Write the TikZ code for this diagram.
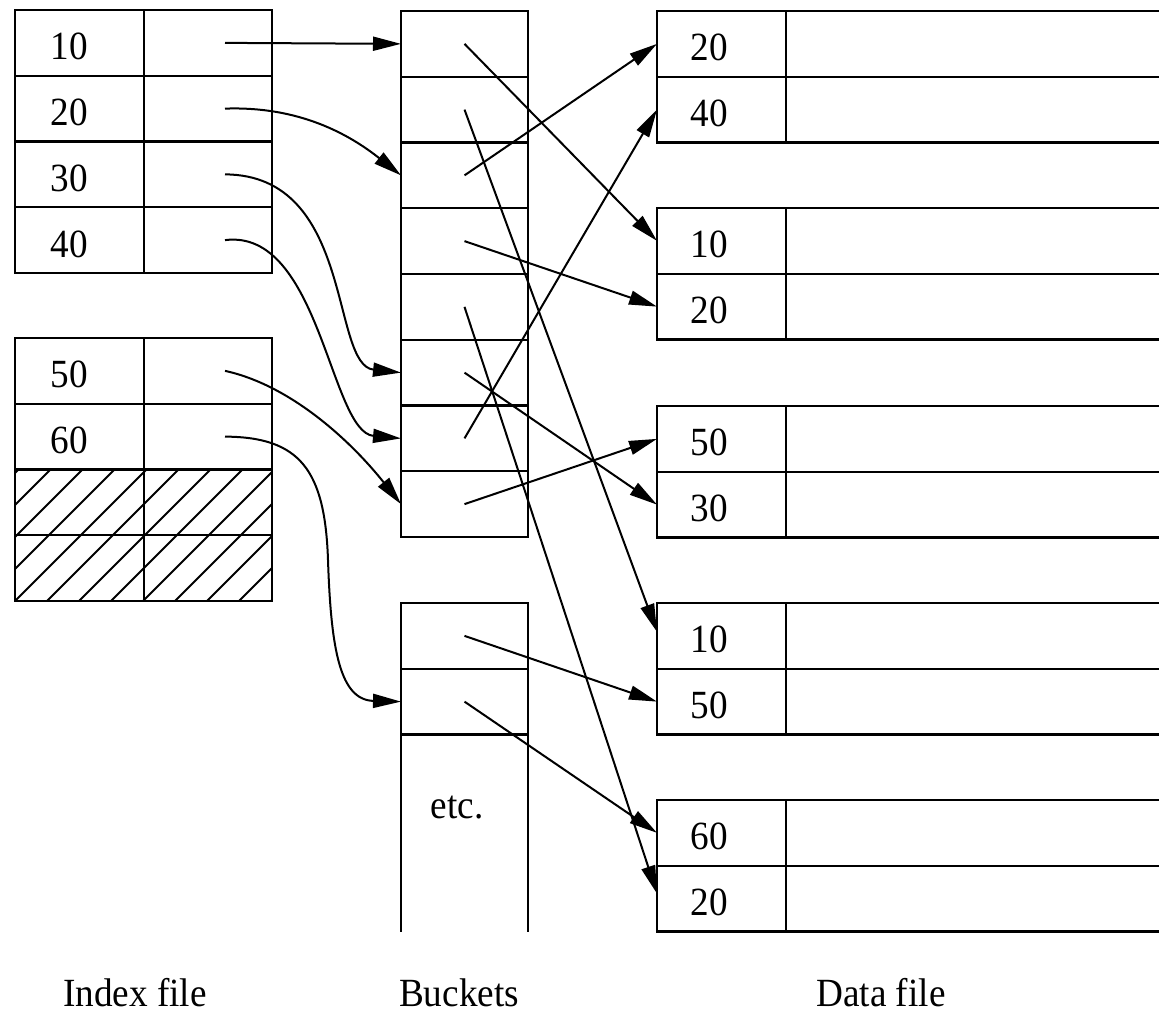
\documentclass[tikz,border=0pt]{standalone}
\usepackage{fontspec}
\setmainfont{Liberation Serif}[FakeStretch=0.93]
\usetikzlibrary{arrows.meta}
\begin{document}
\begin{tikzpicture}[x=1pt,y=-1pt,
  cell/.style={draw, line width=2.2pt, inner sep=0pt, outer sep=0pt, minimum height=65.75pt, anchor=north west},
  keycell/.style={cell, minimum width=129pt},
  ptrcell/.style={cell, minimum width=128pt},
  bcell/.style={cell, minimum width=127pt},
  num/.style={anchor=base, inner sep=0pt, font=\fontsize{40}{48}\selectfont},
  lbl/.style={anchor=base, inner sep=0pt, font=\fontsize{40}{48}\selectfont},
  arr/.style={line width=2pt, -{Triangle[length=28pt,width=14pt]}},
  edgeline/.style={line width=2.2pt},
  hatchline/.style={line width=2pt}]
\useasboundingbox (0,0) rectangle (1159,1019);

% ---------- Index file ----------
\foreach \i/\k in {1/10,2/20,3/30,4/40} {
  \node[keycell] (ik\i) at (15,{10+65.75*(\i-1)}) {};
  \node[ptrcell] (ip\i) at (144,{10+65.75*(\i-1)}) {};
  \node[num] (ikt\i) at ([xshift=-10pt,yshift=16pt]ik\i.south) {\k};
}
% hatched area
\begin{scope}
  \clip (15,469.5) rectangle (272,601);
  \foreach \s in {-9,...,9} \draw[hatchline] ({15+32*\s},601) -- ++(260,-260);
\end{scope}
\foreach \i/\k in {5/50,6/60} {
  \node[keycell] (ik\i) at (15,{338+65.75*(\i-5)}) {};
  \node[ptrcell] (ip\i) at (144,{338+65.75*(\i-5)}) {};
  \node[num] (ikt\i) at ([xshift=-10pt,yshift=16pt]ik\i.south) {\k};
}
\foreach \i in {7,8} {
  \node[keycell] (ik\i) at (15,{338+65.75*(\i-5)}) {};
  \node[ptrcell] (ip\i) at (144,{338+65.75*(\i-5)}) {};
}

% ---------- Buckets ----------
\foreach \i in {1,...,8} \node[bcell] (b\i) at (401,{11+65.75*(\i-1)}) {};
\node[bcell] (c1) at (401,603) {};
\node[bcell] (c2) at (401,668.75) {};
\coordinate (cbl) at (401,932);
\coordinate (cbr) at (528,932);
\draw[edgeline] (c2.south west) -- (cbl);
\draw[edgeline] (c2.south east) -- (cbr);
\node[lbl] (etc) at (457,818) {etc.};

% ---------- Data file ----------
\foreach \j/\T/\ka/\kb in {1/11/20/40, 2/208/10/20, 3/406/50/30, 4/603/10/50, 5/800/60/20} {
  \node[keycell] (d\j-a) at (657,\T) {};
  \node[keycell] (d\j-b) at (657,{\T+65.75}) {};
  \draw[edgeline] (d\j-a.north east) -- ++(420,0);
  \draw[edgeline] (d\j-a.south east) -- ++(420,0);
  \draw[edgeline] (d\j-b.south east) -- ++(420,0);
  \node[num] (dt\j-a) at ([xshift=-12pt,yshift=16pt]d\j-a.south) {\ka};
  \node[num] (dt\j-b) at ([xshift=-12pt,yshift=16pt]d\j-b.south) {\kb};
}

% ---------- Index -> Buckets ----------
\draw[arr] ([xshift=17pt]ip1.center) -- (b1.west);
\draw[arr] ([xshift=17pt]ip2.center) .. controls (300,106) and (350,135) .. (b3.west);
\draw[arr] ([xshift=17pt]ip3.center) .. controls (355,175) and (330,365) .. (b6.west);
\draw[arr] ([xshift=17pt]ip4.center) .. controls (320,228) and (330,432) .. (b7.west);
\draw[arr] ([xshift=17pt]ip5.center) .. controls (290,385) and (350,440) .. (b8.west);
\draw[arr] ([xshift=17pt]ip6.center) .. controls (300,437) and (325,470) .. (328,560)
            .. controls (331,650) and (340,700) .. (c2.west);

% ---------- Buckets -> Data ----------
\draw[arr] (b1.center) -- (d2-a.west);
\draw[arr] (b2.center) -- ([yshift=4pt]d4-a.west);
\draw[arr] (b3.center) -- (d1-a.west);
\draw[arr] (b4.center) -- (d2-b.west);
\draw[arr] (b5.center) -- ([yshift=5pt]d5-b.west);
\draw[arr] (b6.center) -- (d3-b.west);
\draw[arr] (b7.center) -- (d1-b.west);
\draw[arr] (b8.center) -- (d3-a.west);
\draw[arr] (c1.center) -- (d4-b.west);
\draw[arr] (c2.center) -- (d5-a.west);

% ---------- Labels ----------
\node[lbl] (l1) at (135,1006) {Index file};
\node[lbl] (l2) at (459,1006) {Buckets};
\node[lbl] (l3) at (881,1006) {Data file};
\end{tikzpicture}
\end{document}
